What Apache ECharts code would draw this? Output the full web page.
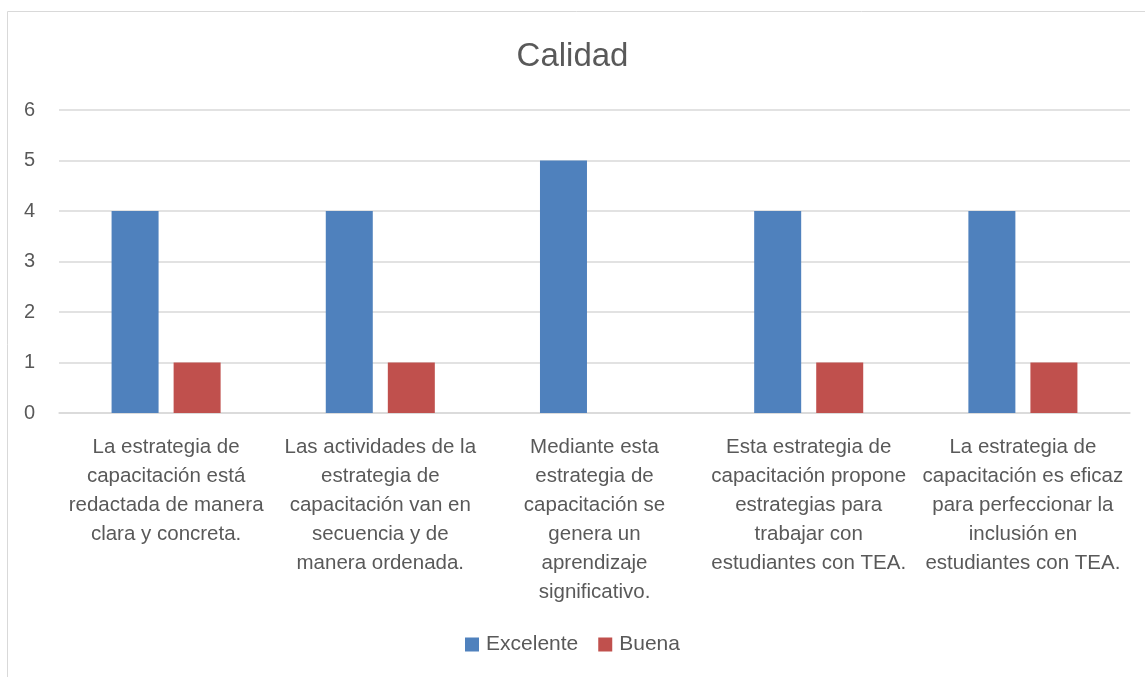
<!DOCTYPE html>
<html>
<head>
<meta charset="utf-8">
<script src="https://cdn.jsdelivr.net/npm/echarts@6/dist/echarts.min.js"></script>
<style>
  html, body { margin: 0; padding: 0; background: #fff; }
  #chart { width: 1145px; height: 677px; }
</style>
</head>
<body>
<div id="chart"></div>
<script>
// categorías (saltos de línea como en el original)
const categories = [
  'La estrategia de\ncapacitación está\nredactada de manera\nclara y concreta.',
  'Las actividades de la\nestrategia de\ncapacitación van en\nsecuencia y de\nmanera ordenada.',
  'Mediante esta\nestrategia de\ncapacitación se\ngenera un\naprendizaje\nsignificativo.',
  'Esta estrategia de\ncapacitación propone\nestrategias para\ntrabajar con\nestudiantes con TEA.',
  'La estrategia de\ncapacitación es eficaz\npara perfeccionar la\ninclusión en\nestudiantes con TEA.'
];
const excelente = [4, 4, 5, 4, 4];
const buena = [1, 1, 0, 1, 1];
const yTicks = [0, 1, 2, 3, 4, 5, 6];

const textColor = '#595959';
const fontFamily = 'Liberation Sans, Arial, sans-serif';

const chart = echarts.init(document.getElementById('chart'));

chart.setOption({
  animation: false,
  textStyle: { fontFamily: fontFamily },
  title: {
    text: 'Calidad',
    left: 'center',
    top: 35,
    textStyle: { color: textColor, fontSize: 33, fontWeight: 'normal', fontFamily: fontFamily }
  },
  graphic: [
    {
      type: 'rect',
      shape: { x: 7.5, y: 11.5, width: 1150, height: 700 },
      style: { fill: 'none', stroke: '#d9d9d9', lineWidth: 1 },
      silent: true
    }
  ],
  legend: {
    bottom: 17,
    left: 'center',
    itemWidth: 14,
    itemHeight: 14,
    itemGap: 20,
    icon: 'rect',
    textStyle: { color: textColor, fontSize: 21, fontFamily: fontFamily, padding: [0, 0, 0, 2] },
    data: ['Excelente', 'Buena']
  },
  grid: { left: 59, right: 15, top: 110, bottom: 264 },
  xAxis: {
    type: 'category',
    data: categories,
    axisLine: { lineStyle: { color: '#d9d9d9', width: 1.5 } },
    axisTick: { show: false },
    axisLabel: {
      color: textColor,
      fontSize: 20.5,
      lineHeight: 29,
      interval: 0,
      margin: 20,
      align: 'center'
    }
  },
  yAxis: {
    type: 'value',
    min: yTicks[0],
    max: yTicks[yTicks.length - 1],
    interval: 1,
    axisLine: { show: false },
    axisTick: { show: false },
    splitLine: { lineStyle: { color: '#d9d9d9', width: 1.5 } },
    axisLabel: { color: textColor, fontSize: 20, margin: 24 }
  },
  series: [
    {
      name: 'Excelente',
      type: 'bar',
      data: excelente,
      barWidth: 47,
      barGap: '32%',
      itemStyle: { color: '#4f81bd' }
    },
    {
      name: 'Buena',
      type: 'bar',
      data: buena,
      barWidth: 47,
      itemStyle: { color: '#c0504d' }
    }
  ]
});
</script>
</body>
</html>
